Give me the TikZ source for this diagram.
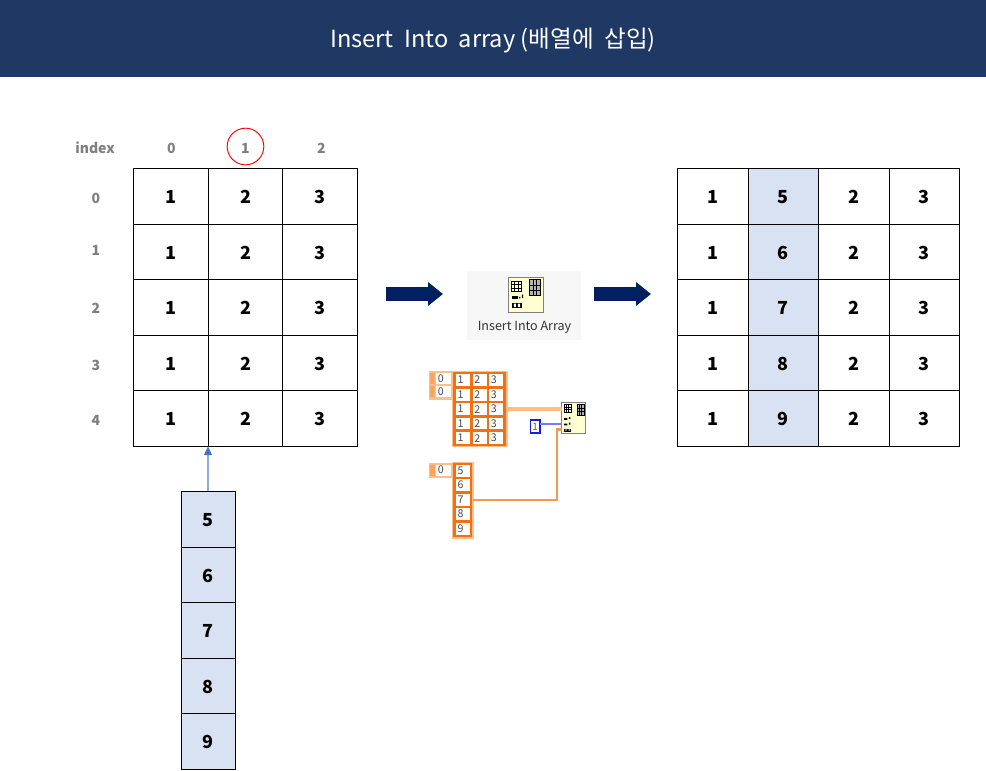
\documentclass[tikz,border=0pt]{standalone}
\usepackage{fontspec}
\setmainfont{Noto Sans CJK KR}
\usetikzlibrary{shapes.geometric,calc,arrows.meta}
\definecolor{headbg}{HTML}{1F3864}
\definecolor{arrowblue}{HTML}{002060}
\definecolor{cellblue}{HTML}{D9E2F3}
\definecolor{idxgray}{HTML}{7F7F7F}
\definecolor{lvdark}{HTML}{F2700F}
\definecolor{lvlight}{HTML}{FDBE8C}
\definecolor{lvmid}{HTML}{FAA55F}
\definecolor{lvwire}{HTML}{F79A4B}
\definecolor{lvyellow}{HTML}{FFFFD2}
\definecolor{lvblue}{HTML}{1A1AE6}
\definecolor{lvblueline}{HTML}{7878FF}
\definecolor{cardbg}{HTML}{F7F7F7}
\definecolor{linkline}{HTML}{8FAADC}
\definecolor{linktip}{HTML}{4472C4}
\tikzset{
  px/.style={rectangle,inner sep=0pt,outer sep=0pt},
  gridcell/.style={px,draw=black,line width=0.65pt,font=\fontsize{13.5}{16}\selectfont\bfseries,text=black},
  hicell/.style={gridcell,fill=cellblue},
  idxlabel/.style={inner sep=0pt,font=\fontsize{10.5}{13}\selectfont\bfseries,text=idxgray},
  blockarrow/.style={arrowblue,line width=10.5pt,-{Triangle[length=11.25pt,width=17.25pt]}},
  lvcell/.style={px,fill=white,font=\fontsize{8}{8}\selectfont,text=black!70,text width=9.6pt,align=left,execute at begin node=\hspace*{0.8pt}},
  lvframe/.style={px,fill=lvdark,draw=lvlight,line width=1.1pt},
  lvindex/.style={px,fill=lvlight},
  lvfn/.style={px,fill=lvyellow,draw=black!50,line width=0.7pt},
}
% name, x0, y0, x1, y1, text, style (pixel coordinates of the reference)
\newcommand{\pxbox}[7]{\node[#7,minimum width={(#4-#2)*0.75pt},minimum height={(#5-#3)*0.75pt}] (#1) at ({(#2+#4)/2},{(#3+#5)/2}) {#6};}
\newcommand{\low}[1]{\raisebox{-5.5pt}[0pt][0pt]{#1}}
% small grid glyph in icon units
\newcommand{\gridglyph}[5]{%
  \draw[black,fill=#5,line width=0.45pt] (#1,#2) rectangle (#3,#4);
  \draw[black,line width=0.3pt] ({#1+(#3-#1)/3},#2)--({#1+(#3-#1)/3},#4) ({#1+2*(#3-#1)/3},#2)--({#1+2*(#3-#1)/3},#4) (#1,{#2+(#4-#2)/3})--(#3,{#2+(#4-#2)/3}) (#1,{#2+2*(#4-#2)/3})--(#3,{#2+2*(#4-#2)/3});
}
\newcommand{\dotbar}[4]{%
  \fill[black] (#1,#2) rectangle (#3,#4);
  \fill[white] ({#1+.05},{#2+.03}) rectangle ({#1+.11},{#4-.03}) ({#3-.11},{#2+.03}) rectangle ({#3-.05},{#4-.03});
}
\begin{document}
\begin{tikzpicture}[x=0.75pt,y=-0.75pt]
\useasboundingbox (0,0) rectangle (986,771);
\fill[white] (0,0) rectangle (986,771);
\pxbox{header}{0}{0}{986}{77}{\fontsize{17.7}{20}\selectfont\raisebox{-7pt}[0pt][0pt]{Insert\ \ Into\ \ array\ (배열에\ \ 삽입)}}{px,fill=headbg,text=white}

% index labels
\node[idxlabel] (ixt) at (95,148) {index};
\node[idxlabel] (ixc0) at (171.5,148) {0};
\node[idxlabel] (ixc1) at (245.5,148) {1};
\node[idxlabel] (ixc2) at (321.5,148) {2};
\node[idxlabel] (ixr0) at (96,198.5) {0};
\node[idxlabel] (ixr1) at (96,250.5) {1};
\node[idxlabel] (ixr2) at (96,308.5) {2};
\node[idxlabel] (ixr3) at (96,365.5) {3};
\node[idxlabel] (ixr4) at (96,420.5) {4};
\node[circle,draw=red,line width=0.7pt,minimum size=27.5pt,inner sep=0pt] (ring) at (245.5,146.5) {};

% left grid
\foreach \r/\ya/\yb in {0/168.5/224,1/224/279.5,2/279.5/335,3/335/390.5,4/390.5/446}{
  \pxbox{L\r a}{133.5}{\ya}{208.5}{\yb}{\low{1}}{gridcell}
  \pxbox{L\r b}{208.5}{\ya}{282.5}{\yb}{\low{2}}{gridcell}
  \pxbox{L\r c}{282.5}{\ya}{357.5}{\yb}{\low{3}}{gridcell}
}
% right grid
\foreach \r/\ya/\yb/\v in {0/168.5/224/5,1/224/279.5/6,2/279.5/335/7,3/335/390.5/8,4/390.5/446/9}{
  \pxbox{R\r a}{677.5}{\ya}{748}{\yb}{\low{1}}{gridcell}
  \pxbox{R\r b}{748}{\ya}{818.5}{\yb}{\low{\v}}{hicell}
  \pxbox{R\r c}{818.5}{\ya}{889}{\yb}{\low{2}}{gridcell}
  \pxbox{R\r d}{889}{\ya}{959.5}{\yb}{\low{3}}{gridcell}
}
% inserted column
\foreach \r/\ya/\yb/\v in {0/491/547/5,1/547/602.5/6,2/602.5/658/7,3/658/713.5/8,4/713.5/769/9}{
  \pxbox{C\r}{181}{\ya}{235}{\yb}{\low{\v}}{hicell}
}
\coordinate (gridfoot) at (208,446.5);
\draw[linkline,line width=0.9pt,-{Triangle[length=6.5pt,width=6pt,color=linktip]}] (C0.north) -- (gridfoot);

% function card
\pxbox{card}{467}{271}{581}{340}{}{px,fill=cardbg}
\pxbox{cardicon}{508.5}{277}{543.5}{312}{}{lvfn}
\begin{scope}[shift={(cardicon.north west)},x=26.25pt,y=-26.25pt]
  \gridglyph{.08}{.12}{.36}{.41}{lvyellow}
  \gridglyph{.60}{.07}{.90}{.52}{black!30}
  \fill[black] (.10,.54) rectangle (.26,.64);
  \fill[black] (.30,.57) rectangle (.34,.61) (.38,.50) rectangle (.42,.60);
  \dotbar{.10}{.73}{.38}{.89}
\end{scope}
\node[inner sep=0pt,font=\fontsize{9.4}{10}\selectfont,text=black!80] (cardlabel) at (524.5,327.5) {Insert Into Array};

% block arrows
\coordinate (a1s) at (386,294);
\coordinate (a1e) at (443,294);
\coordinate (a2s) at (594,294);
\coordinate (a2e) at (651,294);
\draw[blockarrow] (a1s) -- (a1e);
\draw[blockarrow] (a2s) -- (a2e);

% wires
\pxbox{arrA}{452.5}{371.5}{507}{446.5}{}{lvframe}
\pxbox{arrB}{452.5}{462.5}{473}{538}{}{lvframe}
\pxbox{const}{530.5}{420}{540}{433}{\fontsize{7.5}{8}\selectfont 1}{px,draw=lvblue,line width=1.3pt,fill=white,text=black!60}
\pxbox{fn}{561.7}{402.5}{585.7}{433.5}{}{lvfn}
\draw[lvlight,line width=2.6pt] (arrA.east) -- (fn.west |- arrA.east);
\coordinate (constout) at ($(const.east)+(0,-2.6)$);
\draw[lvblueline,line width=1.1pt] (constout) -- (fn.west |- constout);
\coordinate (fnin) at (561.7,429.5);
\draw[lvwire,line width=1.6pt] (arrB.east) -| (557,429.5) -- (fnin);
\begin{scope}[shift={(fn.north west)},x=18pt,y=-23.25pt]
  \gridglyph{.10}{.06}{.38}{.30}{lvyellow}
  \gridglyph{.63}{.06}{.93}{.40}{black!30}
  \fill[black] (.10,.50) rectangle (.24,.56) (.10,.68) rectangle (.24,.74);
  \fill[black] (.30,.47) rectangle (.36,.53) (.30,.65) rectangle (.36,.71);
  \dotbar{.10}{.84}{.40}{.94}
\end{scope}

% LabVIEW array A
\pxbox{idxA}{428.5}{371}{452.5}{399.5}{}{lvindex}
\pxbox{idxA0}{436}{373}{450.5}{384}{0}{lvcell}
\pxbox{idxA1}{436}{386}{450.5}{397}{0}{lvcell}
\fill[lvmid] (430,373) rectangle (434.5,384) (430,386) rectangle (434.5,397);
\foreach \r/\ya/\yb in {0/374/386,1/388.7/400.7,2/403.3/415,3/417.7/429.3,4/432.3/444}{
  \pxbox{Aa\r}{455.7}{\ya}{470}{\yb}{1}{lvcell}
  \pxbox{Ab\r}{472.7}{\ya}{486.7}{\yb}{2}{lvcell}
  \pxbox{Ac\r}{489}{\ya}{503.3}{\yb}{3}{lvcell}
}
% LabVIEW array B
\pxbox{idxB}{428.5}{462.5}{452.5}{477.5}{}{lvindex}
\pxbox{idxB0}{436}{464.5}{450.5}{475.5}{0}{lvcell}
\fill[lvmid] (430,464.5) rectangle (434.5,475.5);
\foreach \r/\ya/\yb/\v in {0/465/476.7/5,1/479.3/491/6,2/494/505.7/7,3/508.3/520/8,4/523/534.7/9}{
  \pxbox{B\r}{455.7}{\ya}{470}{\yb}{\v}{lvcell}
}
\end{tikzpicture}
\end{document}
